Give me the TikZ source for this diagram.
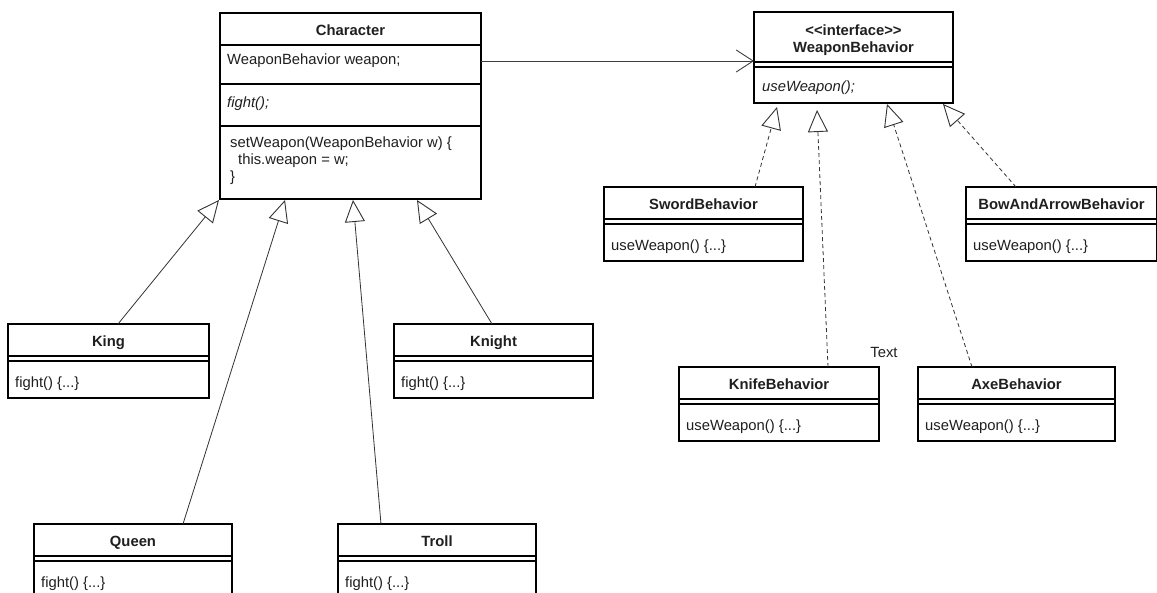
\documentclass[tikz,border=0pt]{standalone}
\usepackage{fontspec}
\setmainfont{Liberation Sans}
\usetikzlibrary{arrows.meta}

% class box: name, x, y, width, title, method
\newcommand\umlclass[6]{%
  \node[classbox, minimum width=#4pt] (#1) at (#2,#3) {};
  \draw[divider] ([yshift=-32pt]#1.north west) -- ([yshift=-32pt]#1.north east);
  \draw[divider] ([yshift=-37pt]#1.north west) -- ([yshift=-37pt]#1.north east);
  \node[titletext] (#1-title) at ([yshift=-17pt]#1.north) {#5};
  \node[membertext] (#1-op) at ([xshift=7pt,yshift=-60pt]#1.north west) {#6};
}

\begin{document}
\begin{tikzpicture}[x=1pt, y=-1pt,
  every node/.style={font=\fontsize{14.8}{17}\selectfont, text=black!88},
  classbox/.style={draw, line width=1.2pt, anchor=north west, inner sep=0pt, outer sep=0pt,
    minimum height=74pt},
  divider/.style={line width=1.1pt},
  titletext/.style={font=\fontsize{14.8}{17}\selectfont\bfseries, inner sep=0pt,
    text height=10.5pt, text depth=0pt, yshift=-0.5pt},
  membertext/.style={anchor=west, inner sep=0pt, text height=10.5pt, text depth=3pt},
  gen/.style={line width=0.8pt, draw=black!80,
    -{Triangle[open, length=22pt, width=20pt, line width=0.9pt]}},
  realize/.style={gen, dash pattern=on 4pt off 3pt},
  assoc/.style={line width=0.9pt, draw=black!75,
    -{Straight Barb[length=17pt, width=22pt, line width=0.9pt]}}
]
\clip (0,0) rectangle (1157,593);
\fill[white] (0,0) rectangle (1157,593);

% ---- Character (abstract context class) ----
\node[draw, line width=1.2pt, anchor=north west, inner sep=0pt, outer sep=0pt,
  minimum width=261pt, minimum height=186pt] (character) at (220,13) {};
\draw[divider] ([yshift=-32pt]character.north west) -- ([yshift=-32pt]character.north east);
\draw[divider] ([yshift=-71pt]character.north west) -- ([yshift=-71pt]character.north east);
\draw[divider] ([yshift=-113pt]character.north west) -- ([yshift=-113pt]character.north east);
\node[titletext] (character-title) at ([yshift=-17pt]character.north) {Character};
\node[membertext] (character-attr) at (227,61) {WeaponBehavior weapon;};
\node[membertext] (character-fight) at (227,104) {\itshape fight();};
\node[membertext, align=left, anchor=north west, text height=, text depth=] (character-set) at (230,137)
  {setWeapon(WeaponBehavior w) \{\\\hspace{8pt}this.weapon = w;\\\}};

% ---- WeaponBehavior interface ----
\node[draw, line width=1.2pt, anchor=north west, inner sep=0pt, outer sep=0pt,
  minimum width=199pt, minimum height=91pt] (iface) at (754,12) {};
\draw[divider] ([yshift=-50pt]iface.north west) -- ([yshift=-50pt]iface.north east);
\draw[divider] ([yshift=-55pt]iface.north west) -- ([yshift=-55pt]iface.north east);
\node[titletext, align=center, text height=, text depth=] (iface-title) at ([yshift=-27.5pt]iface.north)
  {{<}{<}interface{>}{>}\\WeaponBehavior};
\node[membertext] (iface-op) at (762,88) {\itshape useWeapon();};

% ---- concrete characters ----
\umlclass{king}{8}{324}{201}{King}{fight() \{...\}}
\umlclass{knight}{394}{324}{199}{Knight}{fight() \{...\}}
\umlclass{queen}{34}{524}{198}{Queen}{fight() \{...\}}
\umlclass{troll}{338}{524}{198}{Troll}{fight() \{...\}}

% ---- concrete weapon behaviours ----
\umlclass{sword}{604}{187}{199}{SwordBehavior}{useWeapon() \{...\}}
\umlclass{bow}{966}{187}{191}{BowAndArrowBehavior}{useWeapon() \{...\}}
\umlclass{knife}{679}{367}{200}{KnifeBehavior}{useWeapon() \{...\}}
\umlclass{axe}{918}{367}{197}{AxeBehavior}{useWeapon() \{...\}}

\node (note) at (884,352) {Text};

% ---- inheritance ----
\draw[gen] ([xshift=9.5pt]king.north) -- ([xshift=-131.5pt,yshift=-1pt]character.south);
\draw[gen] ([xshift=50pt]queen.north) -- ([xshift=-65.5pt,yshift=-1pt]character.south);
\draw[gen] ([xshift=-56pt]troll.north) -- ([xshift=2.5pt,yshift=-1pt]character.south);
\draw[gen] ([xshift=-1.5pt]knight.north) -- ([xshift=66.5pt,yshift=-1pt]character.south);

% ---- interface realisation ----
\draw[realize] ([xshift=51.5pt]sword.north) -- ([xshift=-76.5pt,yshift=-4pt]iface.south);
\draw[realize] ([xshift=49pt]knife.north) -- ([xshift=-36.5pt,yshift=-7pt]iface.south);
\draw[realize] ([xshift=-44.5pt]axe.north) -- ([xshift=33.5pt,yshift=-1pt]iface.south);
\draw[realize] ([xshift=-45.5pt]bow.north) -- ([xshift=89.5pt,yshift=-1pt]iface.south);

% ---- association ----
\draw[assoc] ([yshift=-48pt]character.north east) -- ([yshift=-49pt]iface.north west);
\end{tikzpicture}
\end{document}
